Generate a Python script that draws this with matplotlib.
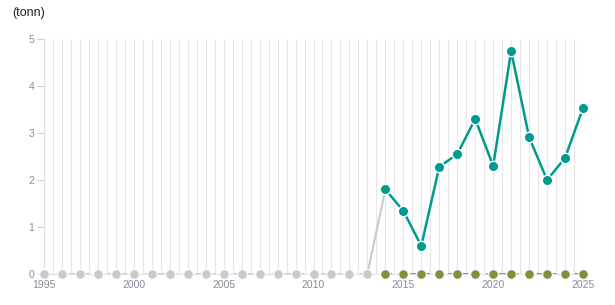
import matplotlib.pyplot as plt
import numpy as np

plt.rcParams['font.family'] = ['Liberation Sans', 'DejaVu Sans']

# grey series: 1995-2013 at zero, joins the teal series in 2014
grey_years = list(range(1995, 2015))
grey_vals = [0] * 19 + [1.8]

# teal series 2014-2025
teal_years = list(range(2014, 2026))
teal_vals = [1.8, 1.34, 0.6, 2.28, 2.55, 3.3, 2.3, 4.74, 2.91, 2.0, 2.47, 3.53]

# olive series 2014-2025 at zero
olive_years = list(range(2014, 2026))
olive_vals = [0] * 12

x_ticks = [1995, 2000, 2005, 2010, 2015, 2020, 2025]
y_ticks = [0, 1, 2, 3, 4, 5]

GREY = '#cacaca'
TEAL = '#009a8e'
OLIVE = '#7f913d'

fig = plt.figure(figsize=(6.15, 3.05), dpi=100)
ax = fig.add_axes([44 / 615, 1 - 274 / 305, 539 / 615, 235 / 305])

# half-year vertical grid
for gx in np.arange(1995, 2025.01, 0.5):
    ax.axvline(gx, color='#e6e6e6', lw=0.8, zorder=0)

# grey: dashed along zero, solid up to 2014
ax.plot(grey_years[:-1], grey_vals[:-1], color=GREY, lw=1.3, ls=(0, (4, 3)), zorder=2)
ax.plot(grey_years[-2:], grey_vals[-2:], color=GREY, lw=1.5, zorder=2)
ax.plot(grey_years[:-1], grey_vals[:-1], 'o', color=GREY, ms=7, mec='white',
        mew=0.8, clip_on=False, zorder=3)

# olive: dashed along zero
ax.plot(olive_years, olive_vals, color=OLIVE, lw=1.3, ls=(0, (4, 3)), zorder=2)
ax.plot(olive_years, olive_vals, 'o', color=OLIVE, ms=7, mec='white', mew=0.8,
        clip_on=False, zorder=3)

# teal
ax.plot(teal_years, teal_vals, color=TEAL, lw=1.8, zorder=4)
ax.plot(teal_years, teal_vals, 'o', color=TEAL, ms=7.5, mec='white', mew=1.0,
        clip_on=False, zorder=5)

ax.set_xlim(1995, 2025)
ax.set_ylim(0, 5)
ax.set_xticks(x_ticks)
ax.set_yticks(y_ticks)
ax.tick_params(axis='x', length=0, labelsize=7.5, colors='#8a8a9a', pad=4)
ax.tick_params(axis='y', length=5, width=0.8, color='#cccccc', labelsize=7.5,
               labelcolor='#8a8a9a', pad=2)
for s in ['top', 'right']:
    ax.spines[s].set_visible(False)
ax.spines['left'].set_color('#e0e0e0')
ax.spines['bottom'].set_color('#e0e0e0')
ax.spines['left'].set_linewidth(0.8)
ax.spines['bottom'].set_linewidth(0.8)

fig.text(12 / 615, 1 - 7 / 305, '(tonn)', fontsize=9, color='#222222', va='top', ha='left')

fig.savefig('out.png', dpi=100)
